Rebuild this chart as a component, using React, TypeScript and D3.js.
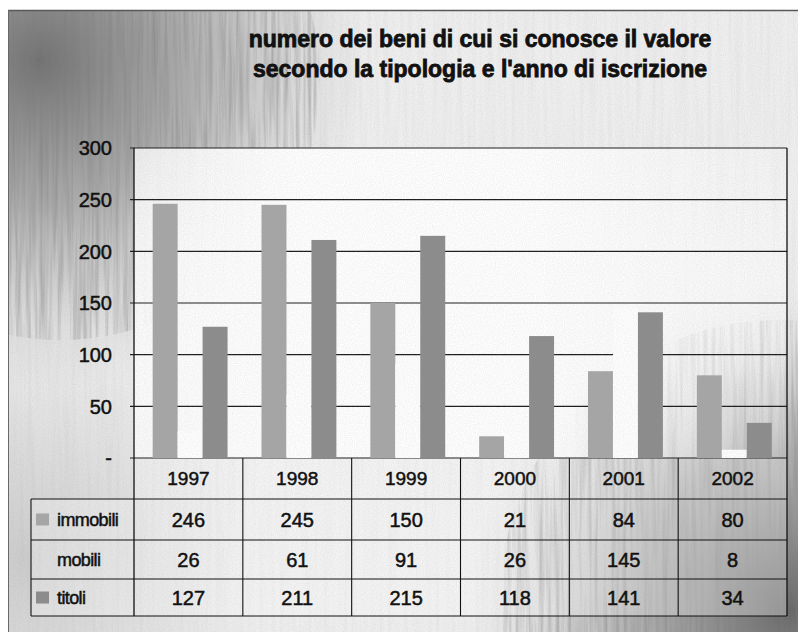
import React from "react";
import * as d3 from "d3";

const years = ["1997", "1998", "1999", "2000", "2001", "2002"];
const immobili = [246, 245, 150, 21, 84, 80];
const mobili = [26, 61, 91, 26, 145, 8];
const titoli = [127, 211, 215, 118, 141, 34];
const seriesNames = ["immobili", "mobili", "titoli"];
const yTicks = [0, 50, 100, 150, 200, 250, 300];
const yTickLabels = ["-", "50", "100", "150", "200", "250", "300"];
const titleLines = [
  "numero dei beni di cui si conosce il valore",
  "secondo la tipologia e l'anno di iscrizione",
];

const W = 798;
const H = 632;
const plotL = 134;
const plotR = 787;
const plotT = 148;
const plotB = 458;
const rowH = [41, 41, 39, 37];
const tableL = 31;
const FONT = "'Liberation Sans', Arial, sans-serif";

export default function App() {
  const x = d3.scaleBand<string>().domain(years).range([plotL, plotR]).paddingInner(0).paddingOuter(0);
  const xi = d3
    .scaleBand<string>()
    .domain(seriesNames)
    .range([0, x.bandwidth()])
    .paddingInner(0)
    .paddingOuter(0.68)
    .align(0.55);
  const y = d3.scaleLinear().domain([0, 300]).range([plotB, plotT]);
  const seriesVals = [immobili, mobili, titoli];
  const seriesFill = ["#a6a6a6", "#ffffff", "#8c8c8c"];

  const rowTops: number[] = [];
  let acc = plotB;
  rowH.forEach((h) => {
    rowTops.push(acc);
    acc += h;
  });
  const tableB = acc;
  const ink = { fill: "#111", stroke: "#111", strokeWidth: 0.5 };

  return (
    <svg
      width={W}
      height={H}
      style={{ position: "absolute", left: 0, top: 0, fontFamily: FONT }}
    >
      <defs>
        <filter id="streaks" x="0" y="0" width="100%" height="100%">
          <feTurbulence type="fractalNoise" baseFrequency="0.25 0.008" numOctaves="3" seed="7" />
          <feColorMatrix
            type="matrix"
            values="0 0 0 0 0.2  0 0 0 0 0.2  0 0 0 0 0.2  1.8 0 0 0 -0.7"
          />
        </filter>
        <filter id="grain" x="0" y="0" width="100%" height="100%">
          <feTurbulence type="fractalNoise" baseFrequency="0.9" numOctaves="1" seed="3" />
          <feColorMatrix
            type="matrix"
            values="0 0 0 0 0.3  0 0 0 0 0.3  0 0 0 0 0.3  1.2 0 0 0 -0.35"
          />
        </filter>
        <radialGradient id="tl" cx="40" cy="60" r="330" gradientUnits="userSpaceOnUse">
          <stop offset="0" stopColor="#707070" stopOpacity="1" />
          <stop offset="0.45" stopColor="#909090" stopOpacity="0.7" />
          <stop offset="1" stopColor="#bbb" stopOpacity="0" />
        </radialGradient>
        <radialGradient id="br" cx="790" cy="610" r="320" gradientUnits="userSpaceOnUse">
          <stop offset="0" stopColor="#666" stopOpacity="1" />
          <stop offset="0.5" stopColor="#909090" stopOpacity="0.65" />
          <stop offset="1" stopColor="#bbb" stopOpacity="0" />
        </radialGradient>
        <radialGradient id="bl" cx="20" cy="560" r="240" gradientUnits="userSpaceOnUse">
          <stop offset="0" stopColor="#c4c4c4" stopOpacity="0.8" />
          <stop offset="1" stopColor="#ccc" stopOpacity="0" />
        </radialGradient>
        <linearGradient id="plotFade" x1={plotL} x2={plotR} y1="0" y2="0" gradientUnits="userSpaceOnUse">
          <stop offset="0" stopColor="#fff" stopOpacity="0.8" />
          <stop offset="0.25" stopColor="#fff" stopOpacity="1" />
          <stop offset="0.62" stopColor="#fff" stopOpacity="1" />
          <stop offset="1" stopColor="#fff" stopOpacity="0.2" />
        </linearGradient>
        <linearGradient id="plotFadeV" x1="0" x2="0" y1={plotT} y2={plotB} gradientUnits="userSpaceOnUse">
          <stop offset="0" stopColor="#fff" stopOpacity="0" />
          <stop offset="0.4" stopColor="#fff" stopOpacity="0.5" />
          <stop offset="1" stopColor="#fff" stopOpacity="0" />
        </linearGradient>
        <mask id="texMask">
          <rect x="0" y="0" width={W} height={H} fill="#222" />
          <circle cx="60" cy="80" r="260" fill="#fff" opacity="0.9" />
          <circle cx="780" cy="600" r="280" fill="#fff" opacity="0.95" />
        </mask>
      </defs>

      {/* background */}
      <rect x={8} y={10} width={W - 8} height={H - 10} fill="#f1f1f1" />
      <rect x={8} y={10} width={W - 8} height={H - 10} fill="url(#bl)" />
      <rect x={8} y={10} width={W - 8} height={H - 10} fill="url(#tl)" />
      <rect x={8} y={10} width={W - 8} height={H - 10} fill="url(#br)" />
      <rect x={8} y={10} width={W - 8} height={H - 10} filter="url(#streaks)" mask="url(#texMask)" opacity={0.6} />
      <line x1={8} x2={W} y1={10.5} y2={10.5} stroke="#555" strokeWidth={1.5} />
      <line x1={8.5} x2={8.5} y1={10} y2={H} stroke="#666" strokeWidth={1} />

      {/* plot area fill */}
      <rect x={plotL} y={plotT} width={plotR - plotL} height={plotB - plotT} fill="url(#plotFade)" />
      <rect x={plotL} y={plotT} width={plotR - plotL} height={plotB - plotT} fill="url(#plotFadeV)" />
      <rect x={tableL} y={rowTops[1]} width={plotR - tableL} height={tableB - rowTops[1]} fill="#fff" opacity={0.3} />
      <rect x={plotL} y={rowTops[0]} width={plotR - plotL} height={rowH[0]} fill="#fff" opacity={0.3} />

      {/* gridlines */}
      {yTicks.map((t) => (
        <line
          key={"g" + t}
          x1={plotL - 4}
          x2={plotR}
          y1={y(t)}
          y2={y(t)}
          stroke="#1a1a1a"
          strokeWidth={1.2}
        />
      ))}

      {/* bars */}
      {years.map((yr, i) => (
        <g key={yr}>
          {seriesNames.map((s, k) => (
            <rect
              key={s}
              x={(x(yr) as number) + (xi(s) as number)}
              y={y(seriesVals[k][i])}
              width={xi.bandwidth()}
              height={plotB - y(seriesVals[k][i])}
              fill={seriesFill[k]}
            />
          ))}
        </g>
      ))}

      {/* grain overlay */}
      <rect x={8} y={10} width={W - 8} height={H - 10} filter="url(#grain)" opacity={0.22} />

      {/* axes / borders */}
      <line x1={plotL} x2={plotL} y1={plotT} y2={tableB} stroke="#111" strokeWidth={1.3} />
      <line x1={plotR} x2={plotR} y1={plotT} y2={tableB} stroke="#111" strokeWidth={1.3} />
      {years.slice(1).map((yr) => (
        <line
          key={"v" + yr}
          x1={x(yr) as number}
          x2={x(yr) as number}
          y1={plotB}
          y2={tableB}
          stroke="#111"
          strokeWidth={1.1}
        />
      ))}
      {rowTops.slice(1).concat([tableB]).map((ry, i) => (
        <line key={"h" + i} x1={tableL} x2={plotR} y1={ry} y2={ry} stroke="#111" strokeWidth={1.1} />
      ))}
      <line x1={tableL} x2={tableL} y1={rowTops[1]} y2={tableB} stroke="#111" strokeWidth={1.1} />

      {/* y tick labels */}
      {yTicks.map((t, i) => (
        <text
          key={"t" + t}
          x={112}
          y={y(t)}
          dy="0.36em"
          textAnchor="end"
          fontSize={20}
          {...ink}
        >
          {yTickLabels[i]}
        </text>
      ))}

      {/* table header */}
      {years.map((yr) => (
        <text
          key={"hdr" + yr}
          x={(x(yr) as number) + x.bandwidth() / 2}
          y={rowTops[0] + rowH[0] / 2}
          dy="0.36em"
          textAnchor="middle"
          fontSize={19}
          {...ink}
        >
          {yr}
        </text>
      ))}

      {/* table rows */}
      {seriesNames.map((s, k) => {
        const cy = rowTops[k + 1] + rowH[k + 1] / 2;
        return (
          <g key={"row" + s}>
            {k !== 1 && (
              <rect x={36} y={cy - 6} width={13} height={12} fill={seriesFill[k]} />
            )}
            <text x={57} y={cy} dy="0.36em" fontSize={18} letterSpacing={-0.6} {...ink}>
              {s}
            </text>
            {years.map((yr, i) => (
              <text
                key={s + yr}
                x={(x(yr) as number) + x.bandwidth() / 2}
                y={cy}
                dy="0.36em"
                textAnchor="middle"
                fontSize={20}
                {...ink}
              >
                {seriesVals[k][i]}
              </text>
            ))}
          </g>
        );
      })}

      {/* title */}
      {titleLines.map((l, i) => (
        <text
          key={"title" + i}
          x={480}
          y={47 + i * 30}
          textAnchor="middle"
          fontSize={23}
          fontWeight="bold"
          fill="#111"
          stroke="#111"
          strokeWidth={0.8}
        >
          {l}
        </text>
      ))}
    </svg>
  );
}
